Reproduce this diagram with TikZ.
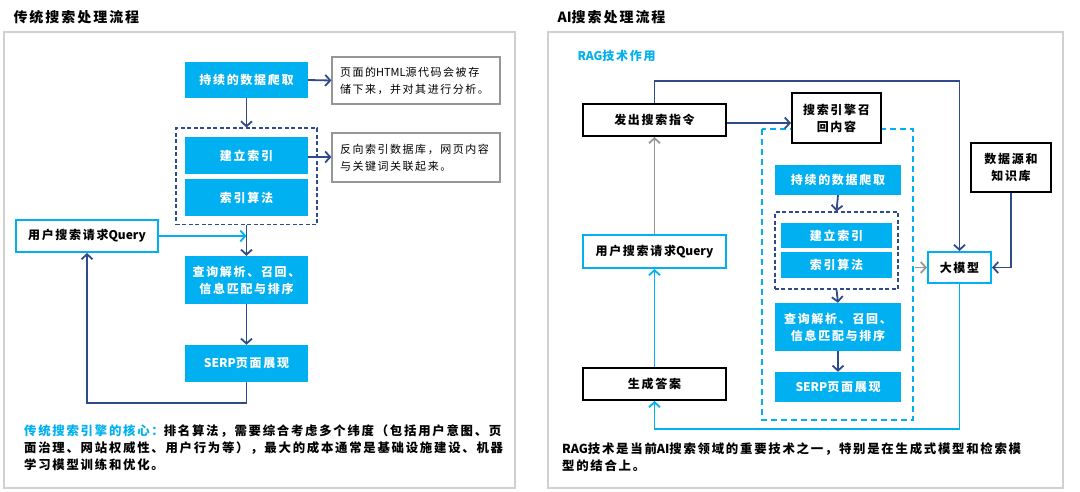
\documentclass[tikz,border=0pt]{standalone}
\usepackage{fontspec}
\setmainfont{Noto Sans CJK SC}[LetterSpace=14]
\usetikzlibrary{arrows.meta,positioning,fit}
\definecolor{srcyan}{RGB}{0,176,240}
\definecolor{srnavy}{RGB}{47,75,140}
\definecolor{srgray}{RGB}{150,150,150}
\definecolor{srframe}{RGB}{208,208,208}
\newcommand{\lat}[1]{{\addfontfeature{LetterSpace=0}#1}}

\tikzset{
  panel/.style={draw=srframe, line width=1.6pt},
  title/.style={anchor=west, font=\fontsize{14}{16}\selectfont\bfseries},
  bluebox/.style={fill=srcyan, text=white, align=center, inner sep=0pt,
    font=\fontsize{12}{17}\selectfont\bfseries},
  notebox/.style={draw=srgray, fill=white, line width=1.2pt, align=left, inner sep=0pt,
    font=\fontsize{11}{17}\selectfont},
  blackbox/.style={draw=black, fill=white, line width=2pt, align=center, inner sep=0pt,
    font=\fontsize{12}{17}\selectfont\bfseries},
  cyanbox/.style={draw=srcyan, fill=white, line width=2pt, align=center, inner sep=0pt,
    font=\fontsize{12}{17}\selectfont\bfseries},
  navyline/.style={draw=srnavy, line width=1.8pt, -{Straight Barb[length=5pt,width=11pt]}},
  cyanline/.style={draw=srcyan, line width=1.8pt, -{Straight Barb[length=5pt,width=11pt]}},
  grayline/.style={draw=srgray, line width=1.8pt, -{Straight Barb[length=5pt,width=11pt]}},
  navydash/.style={draw=srnavy, line width=1.6pt, dash pattern=on 4pt off 2.5pt},
  bodytext/.style={anchor=north west, align=left, inner sep=0pt,
    font=\fontsize{12.4}{17}\selectfont\bfseries},
}

\begin{document}
\begin{tikzpicture}[x=1pt, y=-1pt]
\useasboundingbox (0,0) rectangle (1080,492);
\fill[white] (0,0) rectangle (1080,492);

% Left panel: traditional search
\node[title] (titleL) at (10,17) {传统搜索处理流程};
\draw[panel] (4,32) rectangle (515,488);

\node[bluebox, minimum width=123pt, minimum height=36pt] (crawlL) at (246.5,80) {持续的数据爬取};
\node[bluebox, minimum width=123pt, minimum height=37pt] (idxL) at (246.5,155.5) {建立索引};
\node[bluebox, minimum width=123pt, minimum height=37pt] (algL) at (246.5,197.5) {索引算法};
\node[navydash, inner xsep=9pt, inner ysep=8.5pt, fit=(idxL)(algL)] (coreL) {};
\node[bluebox, minimum width=123pt, minimum height=48pt] (rankL) at (246.5,280) {查询解析、召回、\\信息匹配与排序};
\node[bluebox, minimum width=123pt, minimum height=37pt] (serpL) at (246.5,363.5) {\lat{SERP}页面展现};

\node[notebox, minimum width=168pt, minimum height=47pt, text width=152pt] (noteA) at (416,80.5) {页面的\lat{HTML}源代码会被存\\储下来，并对其进行分析。};
\node[notebox, minimum width=168pt, minimum height=49pt, text width=152pt] (noteB) at (416,157.5) {反向索引数据库，网页内容\\与关键词关联起来。};
\node[cyanbox, minimum width=142pt, minimum height=32pt] (userL) at (87,236) {用户搜索请求\lat{Query}};

\draw[navyline] (crawlL.east) -- (noteA.west);
\draw[navyline] ([yshift=-1.5pt]idxL.east) -- ([yshift=-1.5pt]idxL.east -| noteB.west);
\draw[navyline] (crawlL.south) -- (coreL.north);
\draw[navyline] (coreL.south) -- (rankL.north);
\draw[cyanline] (userL.east) -- (userL.east -| rankL.north);
\draw[navyline] (rankL.south) -- (serpL.north);
\draw[navyline] (serpL.south) -- ++(0,21) -| (userL.south);

\node[bodytext] (coreText) at (24,425) {\textcolor{srcyan}{传统搜索引擎的核心：}排名算法，需要综合考虑多个纬度（包括用户意图、页\\面治理、网站权威性、用户行为等），最大的成本通常是基础设施建设、机器\\学习模型训练和优化。};

% Right panel: AI search
\node[title] (titleR) at (554,17) {\lat{AI}搜索处理流程};
\draw[panel] (548,32) rectangle (1063,488);
\node[anchor=west, text=srcyan, font=\fontsize{12}{14}\selectfont\bfseries] (ragR) at (574,56) {\lat{RAG}技术作用};

\draw[srcyan, line width=1.8pt, dash pattern=on 6pt off 4pt] (762,129) rectangle (913,420);
\coordinate (ragEdge) at (913,267.5);

\node[blackbox, minimum width=143pt, minimum height=32pt] (sendR) at (654.5,120) {发出搜索指令};
\node[blackbox, minimum width=89pt, minimum height=50pt] (recallR) at (836.5,118) {搜索引擎召\\回内容};
\node[bluebox, minimum width=126pt, minimum height=30pt] (crawlR) at (838,180) {持续的数据爬取};
\node[bluebox, minimum width=111pt, minimum height=25pt] (idxR) at (836.5,235.5) {建立索引};
\node[bluebox, minimum width=111pt, minimum height=26pt] (algR) at (836.5,265) {索引算法};
\node[navydash, inner xsep=6pt, inner ysep=10.5pt, fit=(idxR)(algR)] (coreR) {};
\node[bluebox, minimum width=126pt, minimum height=48pt] (rankR) at (838,327) {查询解析、召回、\\信息匹配与排序};
\node[bluebox, minimum width=126pt, minimum height=30pt] (serpR) at (838,387) {\lat{SERP}页面展现};
\node[blackbox, minimum width=80pt, minimum height=49pt] (dataR) at (1011,167.5) {数据源和\\知识库};
\node[cyanbox, minimum width=63pt, minimum height=31pt] (llmR) at (959.5,267.5) {大模型};
\node[cyanbox, minimum width=143pt, minimum height=33pt] (userR) at (654.5,251.5) {用户搜索请求\lat{Query}};
\node[blackbox, minimum width=143pt, minimum height=32pt] (answerR) at (654.5,384) {生成答案};

\draw[navyline] (sendR.north) -- ++(0,-22) -| (llmR.north);
\draw[navyline] ([yshift=-3pt]sendR.east) -- ([yshift=-3pt]sendR.east -| recallR.west);
\draw[navyline] (crawlR.south) -- (coreR.north);
\draw[navyline] (coreR.south) -- (rankR.north);
\draw[navyline] (rankR.south) -- (serpR.north);
\draw[navyline] (dataR.south) |- (llmR.east);
\draw[grayline] ([xshift=2pt]ragEdge) -- (llmR.west);
\draw[cyanline] (llmR.south) -- ++(0,145) -| (answerR.south);
\draw[cyanline] (answerR.north) -- (userR.south);
\draw[grayline] (userR.north) -- (sendR.south);

\node[bodytext] (ragText) at (562,442) {\lat{RAG}技术是当前\lat{AI}搜索领域的重要技术之一，特别是在生成式模型和检索模\\型的结合上。};
\end{tikzpicture}
\end{document}
